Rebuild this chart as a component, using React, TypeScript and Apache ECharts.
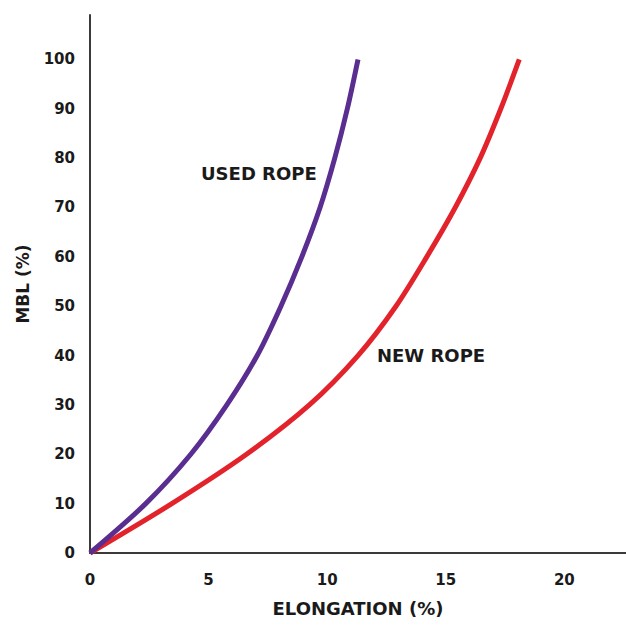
import React, { useEffect, useRef } from "react";
import * as echarts from "echarts";

// MBL (%) levels and elongation (%)
const mblLevels = [0, 10, 20, 30, 40, 50, 60, 70, 80, 90, 100];
const usedElong = [0, 2.35, 4.25, 5.77, 7.05, 8.05, 8.93, 9.7, 10.32, 10.85, 11.3];
const newElong = [0, 3.45, 6.6, 9.25, 11.3, 12.9, 14.2, 15.4, 16.45, 17.32, 18.1];

const xTicks = [0, 5, 10, 15, 20];
const yTicks = [0, 10, 20, 30, 40, 50, 60, 70, 80, 90, 100];

const usedLabel = "USED ROPE";
const newLabel = "NEW ROPE";
const xName = "ELONGATION (%)";
const yName = "MBL (%)";

const FONT = "DejaVu Sans";

export default function App() {
  const ref = useRef<HTMLDivElement>(null);
  useEffect(() => {
    if (!ref.current) return;
    const chart = echarts.init(ref.current, undefined, { renderer: "svg" });
    const pair = (xs: number[]) => xs.map((x, i) => [x, mblLevels[i]]);
    chart.setOption({
      animation: false,
      backgroundColor: "#ffffff",
      grid: { left: 90, right: 0, top: 15, bottom: 75 },
      xAxis: {
        type: "value",
        min: 0,
        max: 22.6,
        interval: 5,
        name: xName,
        nameLocation: "middle",
        nameGap: 46,
        nameTextStyle: { fontFamily: FONT, fontWeight: "bold", fontSize: 18, color: "#1a1a1a" },
        axisLine: { show: true, lineStyle: { color: "#3a3a3a", width: 2 } },
        axisTick: { show: false },
        splitLine: { show: false },
        axisLabel: {
          showMaxLabel: false,
          margin: 19,
          fontFamily: FONT,
          fontWeight: "bold",
          fontSize: 15,
          color: "#1a1a1a",
          formatter: (v: number) => (xTicks.includes(v) ? String(v) : ""),
        },
      },
      yAxis: {
        type: "value",
        min: 0,
        max: 109,
        interval: 10,
        name: yName,
        nameLocation: "middle",
        nameRotate: 90,
        nameGap: 59,
        nameTextStyle: { fontFamily: FONT, fontWeight: "bold", fontSize: 17, color: "#1a1a1a" },
        axisLine: { show: true, lineStyle: { color: "#3a3a3a", width: 2 } },
        axisTick: { show: false },
        splitLine: { show: false },
        axisLabel: {
          showMaxLabel: false,
          margin: 15,
          fontFamily: FONT,
          fontWeight: "bold",
          fontSize: 15,
          color: "#1a1a1a",
          formatter: (v: number) => (yTicks.includes(v) ? String(v) : ""),
        },
      },
      series: [
        {
          name: usedLabel,
          type: "line",
          data: pair(usedElong),
          smooth: 0.3,
          showSymbol: false,
          lineStyle: { color: "#5a2d91", width: 5 },
          z: 3,
        },
        {
          name: newLabel,
          type: "line",
          data: pair(newElong),
          smooth: 0.3,
          showSymbol: false,
          lineStyle: { color: "#e3232b", width: 5 },
          z: 2,
        },
      ],
      graphic: [
        {
          type: "text",
          left: 201,
          top: 164,
          style: { text: usedLabel, fontFamily: FONT, fontWeight: "bold", fontSize: 18, fill: "#1a1a1a" },
        },
        {
          type: "text",
          left: 377,
          top: 346,
          style: { text: newLabel, fontFamily: FONT, fontWeight: "bold", fontSize: 18, fill: "#1a1a1a" },
        },
      ],
    });
    return () => chart.dispose();
  }, []);
  return (
    <div
      ref={ref}
      style={{ position: "fixed", left: 0, top: 0, width: 626, height: 628, background: "#fff" }}
    />
  );
}
